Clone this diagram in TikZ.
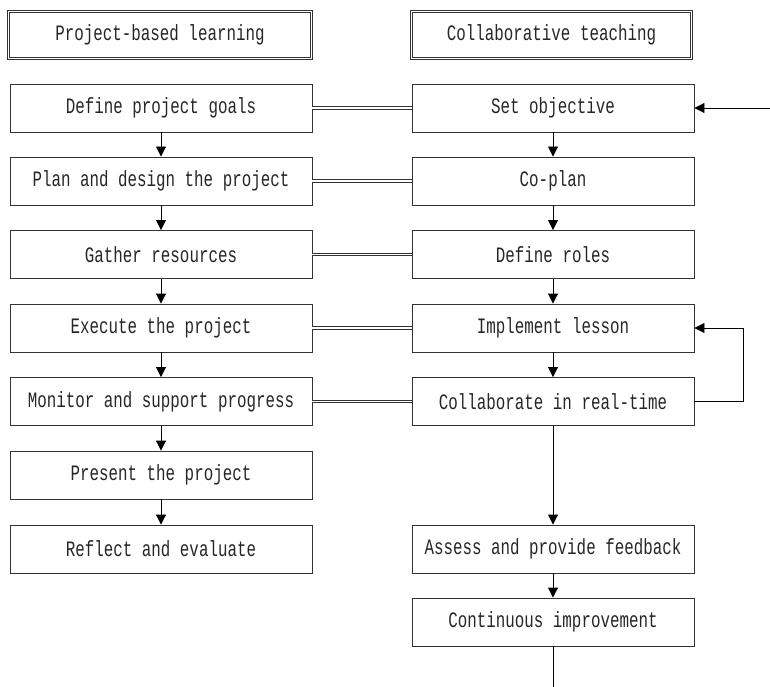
\documentclass[tikz,border=0pt]{standalone}
\usepackage{fontspec}
\setmainfont{Liberation Mono}[FakeStretch=0.72]
\usetikzlibrary{arrows.meta}
\begin{document}
\begin{tikzpicture}[x=1pt,y=-1pt,
  font=\fontsize{22}{24}\selectfont,
  box/.style={draw=black!80, line width=0.9pt, minimum height=48pt, inner sep=0pt, text=black!85},
  lbox/.style={box, minimum width=302pt},
  rbox/.style={box, minimum width=282pt},
  hbox/.style={draw=black!80, line width=0.8pt, double, double distance=1.6pt, minimum height=47pt, inner sep=0pt, text=black!85},
  link/.style={draw=black!80, line width=0.7pt, double, double distance=1.8pt},
  arr/.style={draw=black, line width=0.9pt, -{Triangle[length=10pt,width=10pt]}},
  ln/.style={draw=black, line width=0.9pt}]
\useasboundingbox (0,0) rectangle (770,687);
\node[hbox, minimum width=303pt] (hl) at (160,35) {Project-based learning};
\node[hbox, minimum width=280pt] (hr) at (551.5,35) {Collaborative teaching};
\node[lbox] (l1) at (161,108) {Define project goals};
\node[lbox] (l2) at (161,181) {Plan and design the project};
\node[lbox] (l3) at (161,254.5) {Gather resources};
\node[lbox] (l4) at (161,328) {Execute the project};
\node[lbox] (l5) at (161,401.5) {Monitor and support progress};
\node[lbox] (l6) at (161,475) {Present the project};
\node[lbox] (l7) at (161,549) {Reflect and evaluate};
\node[rbox] (r1) at (553,108) {Set objective};
\node[rbox] (r2) at (553,181) {Co-plan};
\node[rbox] (r3) at (553,254.5) {Define roles};
\node[rbox] (r4) at (553,328) {Implement lesson};
\node[rbox] (r5) at (553,401.5) {Collaborate in real-time};
\node[rbox] (r6) at (553,549) {Assess and provide feedback};
\node[rbox] (r7) at (553,622) {Continuous improvement};
\foreach \i in {1,...,5}{\draw[link] (l\i.east) -- (r\i.west);}
\foreach \a/\b in {l1/l2,l2/l3,l3/l4,l4/l5,l5/l6,l6/l7,r1/r2,r2/r3,r3/r4,r4/r5,r5/r6,r6/r7}{\draw[arr] (\a) -- (\b);}
\coordinate (inr) at (770,108);
\draw[arr] (inr) -- (r1.east);
\coordinate (lp) at (743,401.5);
\draw[arr] (r5.east) -- (lp) |- (r4.east);
\coordinate (bot) at (553,690);
\draw[ln] (r7.south) -- (bot);
\end{tikzpicture}
\end{document}
